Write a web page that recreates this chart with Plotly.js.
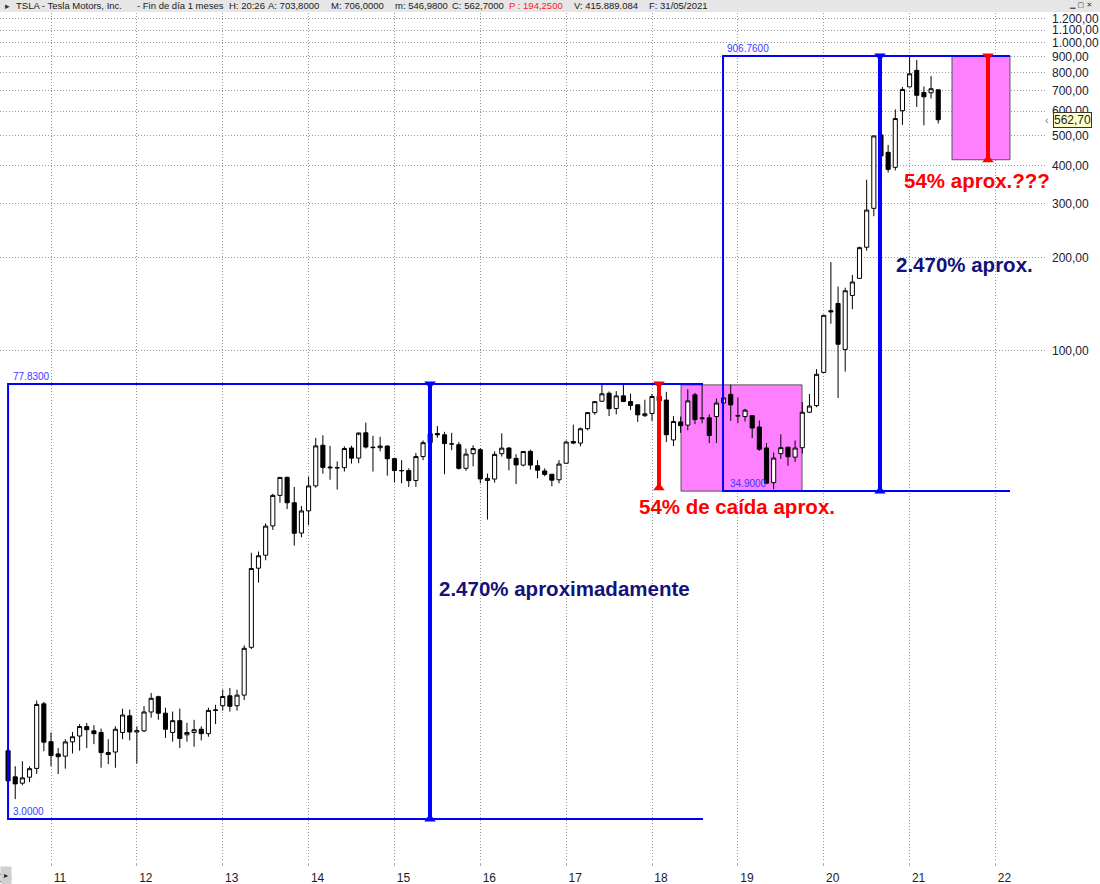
<!DOCTYPE html>
<html>
<head>
<meta charset="utf-8">
<script src="https://cdn.plot.ly/plotly-3.0.1.min.js"></script>
<style>html,body{margin:0;padding:0;background:#fff;}#chart{width:1100px;height:884px;}</style>
</head>
<body>
<div id="chart"></div>
<script>
// Monthly candles TSLA, Jul 2010 .. May 2021 (split-adjusted prices)
const firstYear = 2010, firstMonth = 7;
const openP = [
  5.00, 4.11, 3.92, 4.10, 4.38, 7.10,
  5.35, 4.88, 4.80, 5.34, 5.58, 5.99, 5.80, 5.73, 4.93, 4.95, 5.73, 6.49,
  5.75, 5.80, 6.68, 7.49, 6.62, 5.73, 6.26, 5.63, 5.73, 5.87, 5.68, 6.76,
  7.00, 7.54, 7.00, 7.58, 10.84, 19.60, 21.60, 26.90, 33.80, 38.70, 31.99, 25.50,
  30.10, 36.30, 49.20, 41.80, 41.60, 41.60, 48.20, 44.70, 54.00, 48.50, 48.30, 48.90,
  44.50, 40.70, 40.70, 37.80, 45.20, 50.20, 53.70, 53.20, 49.70, 49.40, 41.40, 46.20,
  47.60, 37.80, 38.20, 46.20, 48.20, 44.60, 42.40, 47.00, 42.20, 40.60, 39.60, 38.00,
  43.00, 50.60, 50.00, 55.70, 62.80, 68.40, 72.60, 64.80, 71.20, 68.20, 66.60, 61.40,
  62.40, 71.00, 69.00, 51.20, 58.60, 57.20, 71.80, 60.00, 60.40, 61.00, 67.50, 72.00,
  61.20, 61.00, 61.40, 56.40, 48.20, 37.20, 46.20, 48.50, 45.00, 48.30, 63.00, 66.20,
  84.90, 134.70, 142.20, 100.80, 151.00, 171.60, 216.60, 289.80, 502.10, 440.80, 394.00, 602.00,
  719.50, 814.30, 690.00, 688.40, 703.80
];
const highP = [
  5.18, 4.45, 4.62, 4.45, 7.28, 7.20,
  5.73, 5.10, 5.45, 5.75, 6.10, 6.15, 6.05, 5.90, 5.45, 6.00, 6.85, 6.80,
  6.00, 6.98, 7.70, 7.55, 6.90, 6.70, 6.85, 6.16, 6.30, 6.00, 6.90, 7.05,
  7.90, 8.00, 7.90, 11.00, 22.00, 22.20, 27.40, 34.20, 38.80, 38.90, 36.00, 31.20,
  38.90, 52.00, 53.00, 49.00, 43.60, 48.80, 49.00, 53.00, 58.30, 52.80, 52.40, 49.20,
  44.50, 44.00, 41.40, 46.40, 51.00, 54.20, 56.80, 54.40, 54.00, 50.40, 48.00, 49.20,
  48.20, 39.80, 47.00, 53.80, 48.40, 46.00, 47.00, 47.60, 44.00, 41.40, 39.60, 44.00,
  51.00, 57.40, 56.20, 62.90, 68.40, 77.40, 73.60, 73.80, 77.92, 72.40, 66.60, 69.20,
  72.20, 72.00, 73.40, 61.20, 61.00, 74.80, 72.80, 77.49, 62.00, 69.80, 73.20, 77.40,
  70.40, 64.60, 61.60, 59.20, 50.00, 46.60, 53.40, 48.60, 51.00, 68.00, 72.20, 87.00,
  130.60, 193.80, 161.40, 160.00, 176.00, 217.50, 359.00, 500.14, 502.50, 465.90, 607.80, 718.70,
  900.40, 880.50, 721.10, 780.80, 706.00
];
const lowP = [
  3.00, 3.48, 3.86, 3.95, 4.20, 4.98,
  4.45, 4.20, 4.37, 4.90, 5.00, 5.10, 5.25, 4.40, 4.52, 4.40, 5.45, 5.40,
  4.54, 5.75, 6.40, 6.30, 5.50, 5.35, 5.10, 5.35, 5.15, 5.40, 5.55, 6.10,
  6.75, 6.70, 6.75, 7.30, 10.70, 17.60, 20.80, 26.10, 32.00, 30.50, 23.20, 24.70,
  27.10, 35.80, 39.80, 38.00, 35.30, 40.40, 42.90, 43.00, 48.00, 40.40, 47.00, 39.20,
  37.20, 37.00, 36.00, 36.00, 44.00, 49.20, 52.00, 39.60, 47.40, 41.00, 40.60, 42.00,
  37.00, 28.20, 37.20, 45.20, 40.80, 36.80, 42.00, 41.00, 38.40, 39.00, 36.20, 37.00,
  42.80, 49.60, 48.80, 55.00, 61.80, 68.00, 61.20, 62.00, 68.20, 64.00, 58.60, 60.80,
  59.00, 62.00, 50.40, 48.90, 54.00, 55.00, 57.60, 58.00, 50.00, 50.00, 65.00, 59.00,
  58.00, 58.80, 51.90, 47.20, 37.00, 35.40, 44.40, 42.20, 43.40, 46.20, 62.60, 65.40,
  84.30, 122.20, 70.10, 85.40, 136.20, 171.00, 211.20, 273.20, 329.90, 379.10, 385.00, 541.20,
  717.20, 619.00, 539.50, 659.40, 546.98
];
const closeP = [
  3.99, 3.90, 4.08, 4.37, 7.07, 5.33,
  4.82, 4.78, 5.34, 5.55, 5.99, 5.85, 5.68, 4.93, 4.86, 5.87, 6.53, 5.75,
  5.81, 6.68, 7.40, 6.62, 5.87, 6.26, 5.48, 5.73, 5.85, 5.68, 6.76, 6.78,
  7.50, 6.97, 7.58, 10.76, 19.55, 21.51, 26.86, 33.80, 38.67, 31.99, 25.46, 30.09,
  36.28, 48.96, 41.69, 41.58, 41.55, 48.01, 44.66, 53.94, 48.54, 48.34, 48.90, 44.48,
  40.72, 40.67, 37.75, 45.21, 50.16, 53.65, 53.23, 49.81, 49.68, 41.39, 46.05, 48.00,
  38.24, 38.39, 45.95, 48.15, 44.65, 42.46, 46.96, 42.40, 40.81, 39.55, 37.88, 42.74,
  50.39, 50.00, 55.66, 62.81, 68.20, 72.32, 64.69, 71.18, 68.22, 66.31, 61.77, 62.27,
  70.86, 68.61, 53.23, 58.78, 56.95, 68.59, 59.63, 60.33, 52.95, 67.46, 70.10, 66.56,
  61.40, 63.98, 55.97, 47.74, 37.03, 44.69, 48.32, 45.12, 48.17, 62.98, 65.99, 83.67,
  130.11, 133.60, 104.80, 156.38, 167.00, 215.96, 286.15, 498.32, 429.01, 388.04, 567.60, 705.67,
  793.53, 675.50, 667.93, 709.44, 562.70
];

// Drawn levels (price values of the annotations)
const rangeLow1 = 3.0, rangeHigh1 = 77.83;
const rangeLow2 = 34.9, rangeHigh2 = 906.76;
const pinkTop1 = 77.3, dropLow1 = 35.8, dropLow2 = 417;

// Axis ticks
const yearTicks = [2011,2012,2013,2014,2015,2016,2017,2018,2019,2020,2021,2022];
const yearLabels = ['11','12','13','14','15','16','17','18','19','20','21','22'];
const priceTicks = [100,200,300,400,500,600,700,800,900,1000,1100,1200];

const monthX = openP.map((_, i) => firstYear + (firstMonth - 1 + i) / 12);

const BLUE = '#0000ff', RED = '#ff0000', NAVY = '#121278';
const FONT = 'Liberation Sans, Arial, sans-serif';

const traces = [];
traces.push({
  type: 'candlestick', x: monthX, open: openP, high: highP, low: lowP, close: closeP,
  increasing: {line: {color: '#000000', width: 1}, fillcolor: '#ffffff'},
  decreasing: {line: {color: '#000000', width: 1}, fillcolor: '#000000'},
  whiskerwidth: 0, hoverinfo: 'skip', showlegend: false
});

function boxLines(xl, xr, top, bottom) {
  return {type: 'scatter', mode: 'lines', x: [xr, xl, xl, xr], y: [top, top, bottom, bottom],
    line: {color: BLUE, width: 2}, hoverinfo: 'skip', showlegend: false};
}
function arrow(x, lo, hi, color) {
  return {type: 'scatter', mode: 'lines+markers', x: [x, x], y: [lo, hi],
    line: {color: color, width: 4},
    marker: {symbol: ['triangle-up', 'triangle-down'], size: 10, color: color},
    hoverinfo: 'skip', showlegend: false};
}
traces.push(boxLines(2010.5, 2018.594, rangeHigh1, rangeLow1));
traces.push(boxLines(2018.827, 2022.17, rangeHigh2, rangeLow2));
traces.push(arrow(2015.414, rangeLow1, rangeHigh1, BLUE));
traces.push(arrow(2020.655, rangeLow2, rangeHigh2, BLUE));
traces.push(arrow(2018.081, dropLow1, rangeHigh1, RED));
traces.push(arrow(2021.913, dropLow2, rangeHigh2, RED));

const shapes = [
  {type: 'rect', xref: 'x', yref: 'y', x0: 2018.338, x1: 2019.747, y0: rangeLow2, y1: pinkTop1,
   fillcolor: '#ff80ff', line: {color: '#555555', width: 1}, layer: 'between'},
  {type: 'rect', xref: 'x', yref: 'y', x0: 2021.494, x1: 2022.169, y0: dropLow2, y1: rangeHigh2,
   fillcolor: '#ff80ff', line: {color: '#555555', width: 1}, layer: 'between'},
  // header bar
  {type: 'rect', xref: 'paper', yref: 'paper', x0: 0, x1: 1100/1045, y0: (862-12)/849, y1: 862/849,
   fillcolor: '#e6e6e6', line: {width: 0}, layer: 'above'}
];

const L10 = Math.log10;
const ann = [];
function lvlLabel(text, x, y) {
  ann.push({xref: 'x', yref: 'y', x: x, y: L10(y), text: text, showarrow: false,
    xanchor: 'left', yanchor: 'bottom', yshift: 0, font: {family: FONT, size: 10, color: '#3a3aff'}});
}
lvlLabel('77.8300', 2010.53, rangeHigh1);
lvlLabel('3.0000', 2010.53, rangeLow1);
lvlLabel('906.7600', 2018.855, rangeHigh2);
lvlLabel('34.9000', 2018.88, rangeLow2);

function bigText(text, x, y, color) {
  ann.push({xref: 'x', yref: 'y', x: x, y: L10(y), text: '<b>' + text + '</b>', showarrow: false,
    xanchor: 'left', yanchor: 'middle', font: {family: FONT, size: 20.5, color: color}});
}
bigText('2.470% aproximadamente', 2015.495, 16.9, NAVY);
bigText('54% de caída aprox.', 2017.825, 31.0, RED);
bigText('2.470% aprox.', 2020.818, 189.7, NAVY);
bigText('54% aprox.???', 2020.91, 355.7, RED);

// Header items (pixel x positions)
const header = [
  ['TSLA - Tesla Motors, Inc.', 14, '#1a1a1a'],
  ['- Fin de día 1 meses', 135, '#1a1a1a'],
  ['H: 20:26', 227, '#1a1a1a'],
  ['A: 703,8000', 266, '#1a1a1a'],
  ['M: 706,0000', 329, '#1a1a1a'],
  ['m: 546,9800', 393, '#1a1a1a'],
  ['C: 562,7000', 450, '#1a1a1a'],
  ['P : 194,2500', 507, '#ff2020'],
  ['V: 415.889.084', 572, '#1a1a1a'],
  ['F: 31/05/2021', 647, '#1a1a1a']
];
header.forEach(h => ann.push({xref: 'paper', yref: 'paper', x: h[1]/1045, y: (862-6)/849,
  text: h[0], showarrow: false, xanchor: 'left', yanchor: 'middle',
  font: {family: FONT, size: 9.5, color: h[2]}}));
ann.push({xref: 'paper', yref: 'paper', x: 3/1045, y: (862-6)/849, text: '▸', showarrow: false,
  xanchor: 'left', yanchor: 'middle', font: {family: FONT, size: 9, color: '#333'}});
ann.push({xref: 'paper', yref: 'paper', x: 1094/1045, y: (862-5)/849, text: '▁ ▢ ✕', showarrow: false,
  xanchor: 'right', yanchor: 'middle', font: {family: 'DejaVu Sans', size: 7, color: '#333'}});

// Last price marker
const lastClose = closeP[closeP.length - 1];
ann.push({xref: 'paper', yref: 'y', x: 1053/1045, y: L10(lastClose),
  text: lastClose.toFixed(2).replace('.', ','), showarrow: false, xanchor: 'left', yanchor: 'middle',
  bgcolor: '#ffffc8', bordercolor: '#333', borderwidth: 1, borderpad: 0,
  font: {family: FONT, size: 12, color: '#202030'}});
ann.push({xref: 'paper', yref: 'y', x: 1051/1045, y: L10(lastClose), text: '‹', showarrow: false,
  xanchor: 'right', yanchor: 'middle', font: {family: FONT, size: 11, color: '#777'}});

// first year label, partly hidden by the small button
ann.push({xref: 'paper', yref: 'paper', x: 14/1045, y: (862-878)/849, text: '10', showarrow: false,
  xanchor: 'right', yanchor: 'middle', font: {family: FONT, size: 12, color: '#1a1a2e'}});
ann.push({xref: 'paper', yref: 'paper', x: 0, y: (862-876)/849, text: '▸', showarrow: false,
  xanchor: 'left', yanchor: 'middle', width: 8, height: 15, bgcolor: '#d0d0d0',
  font: {family: FONT, size: 8, color: '#222'}});

const layout = {
  width: 1100, height: 884,
  margin: {l: 0, r: 55, t: 13, b: 22, pad: 0},
  paper_bgcolor: '#ffffff', plot_bgcolor: '#ffffff',
  separators: ',.',
  font: {family: FONT, size: 12, color: '#202030'},
  showlegend: false,
  boxgap: 0.18,
  xaxis: {type: 'linear', range: [2010.406, 2022.577], tickvals: yearTicks, ticktext: yearLabels,
    ticklabelshift: 9, ticklabelstandoff: 2,
    showgrid: true, gridcolor: '#9a9a9a', griddash: '1px,2px', gridwidth: 1,
    zeroline: false, showline: false, ticks: 'outside', ticklen: 3, tickcolor: '#b0b0b0',
    rangeslider: {visible: false}, fixedrange: true,
    tickfont: {family: FONT, size: 12, color: '#1a1a2e'}},
  yaxis: {type: 'log', side: 'right', range: [0.3371, 3.0972], tickvals: priceTicks, tickformat: ',.2f',
    showgrid: true, gridcolor: '#9a9a9a', griddash: '1px,2px', gridwidth: 1,
    zeroline: false, showline: false, ticks: '', ticklabelstandoff: 6, fixedrange: true,
    tickfont: {family: FONT, size: 12, color: '#202030'}},
  shapes: shapes,
  annotations: ann
};

Plotly.newPlot('chart', traces, layout, {staticPlot: true, displayModeBar: false});
</script>
</body>
</html>
